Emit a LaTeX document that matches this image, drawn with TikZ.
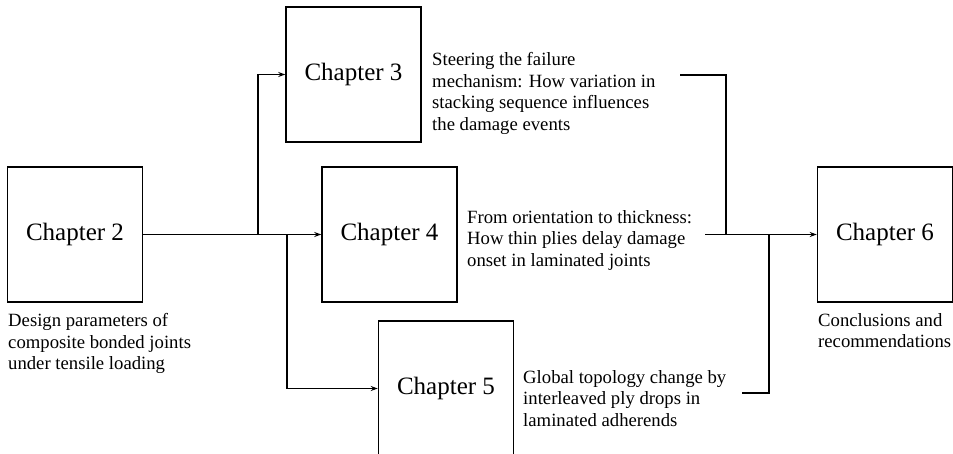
\documentclass[tikz,border=0pt]{standalone}
\usepackage{fontspec}
\setmainfont{Liberation Serif}
\usetikzlibrary{arrows.meta}
\begin{document}
\begin{tikzpicture}[x=1pt,y=-1pt,
  chbox/.style={draw,line width=1.5pt,minimum width=135pt,minimum height=135pt,inner sep=0pt,font=\fontsize{25}{29}\selectfont},
  desc/.style={anchor=north west,inner sep=0pt,align=left,font=\fontsize{18.7}{21.8}\selectfont},
  conn/.style={line width=1.5pt},
  arr/.style={line width=1.5pt,-{Stealth[length=7pt,width=5pt]}}]
\useasboundingbox (0,0) rectangle (953,454);
\clip (0,0) rectangle (953,454);
\node[chbox] (c2) at (75,234.5) {\raisebox{-2pt}{Chapter 2}};
\node[chbox] (c3) at (353.5,74.5) {\raisebox{-2pt}{Chapter 3}};
\node[chbox] (c4) at (389.5,234.5) {\raisebox{-2pt}{Chapter 4}};
\node[chbox] (c5) at (446,388.5) {\raisebox{-2pt}{Chapter 5}};
\node[chbox] (c6) at (885,234.5) {\raisebox{-2pt}{Chapter 6}};
\node[desc] (d2) at (8,313) {Design parameters of\\composite bonded joints\\under tensile loading};
\node[desc] (d3) at (432,52) {Steering the failure\\mechanism: How variation in\\stacking sequence influences\\the damage events};
\node[desc] (d4) at (467,210) {From orientation to thickness:\\How thin plies delay damage\\onset in laminated joints};
\node[desc] (d5) at (523,370) {Global topology change by\\interleaved ply drops in\\laminated adherends};
\node[desc] (d6) at (818,313) {Conclusions and\\recommendations};
\coordinate (j1) at (258,234.5);
\coordinate (j2) at (287,234.5);
\coordinate (s3) at (680,75);
\coordinate (m3) at (726,75);
\coordinate (s4) at (705,234.5);
\coordinate (s5) at (742,393);
\coordinate (m5) at (769,393);
\draw[arr] (c2.east) -- (c4.west);
\draw[arr] (j1) |- (c3.west);
\draw[arr] (j2) |- (c5.west);
\draw[conn] (s3) -- (m3) -- (m3 |- s4);
\draw[conn] (s5) -- (m5) -- (m5 |- s4);
\draw[arr] (s4) -- (c6.west);
\end{tikzpicture}
\end{document}
